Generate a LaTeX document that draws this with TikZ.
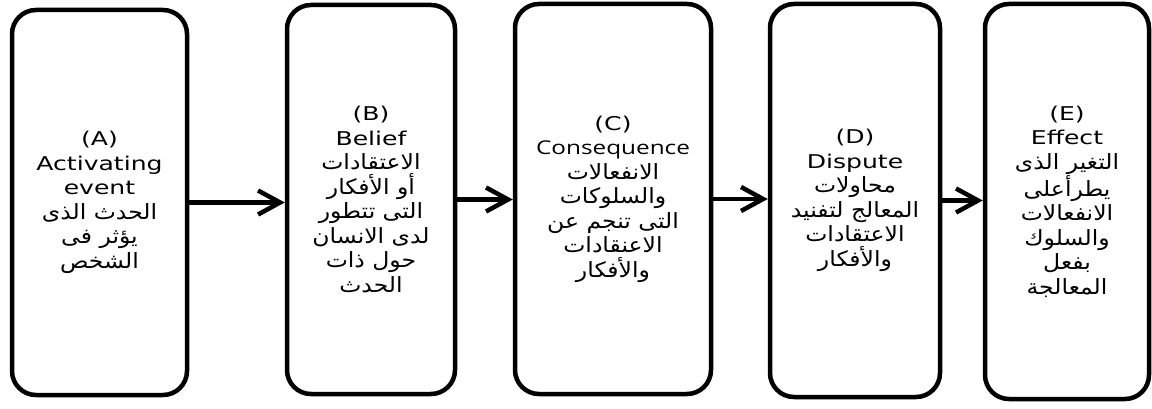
\documentclass[tikz,border=0pt]{standalone}
\usepackage{fontspec}
\setmainfont{DejaVu Sans}[FakeStretch=1.32]
\newfontfamily\arabicfont[Script=Arabic,FakeStretch=1.12]{DejaVu Sans}
\newfontfamily\conseqfont{Open Sans}[FakeStretch=1.28]
\TeXXeTstate=1
\usetikzlibrary{arrows.meta}
\usetikzlibrary{positioning}

\newcommand{\artext}[1]{{\arabicfont\fontsize{21pt}{24.5pt}\selectfont\beginR #1\endR}}

\begin{document}
\begin{tikzpicture}[x=1pt,y=1pt,>={Straight Barb[length=22pt,width=24pt]},
	stagebox/.style={draw,rectangle,rounded corners=24pt,line width=4.5pt,
		inner sep=0pt,align=center,font=\fontsize{19pt}{24.5pt}\selectfont}]
	
	\useasboundingbox (0,0) rectangle (1152,408);
	
	\node[stagebox, minimum width=175pt, minimum height=385pt] (a) at (99.5,205.5)
		{(A)\\Activating\\event\\\artext{الحدث الذى}\\\artext{يؤثر فى}\\\artext{الشخص}};
	\node[stagebox, minimum width=168pt, minimum height=389pt] (b) at (371,208.5)
		{(B)\\Belief\\\artext{الاعتقادات}\\\artext{أو الأفكار}\\\artext{التى تتطور}\\\artext{لدى الانسان}\\\artext{حول ذات}\\\artext{الحدث}};
	\node[stagebox, minimum width=196pt, minimum height=390pt] (c) at (613,209)
		{(C)\\{\conseqfont Consequence}\\\artext{الانفعالات}\\\artext{والسلوكات}\\\artext{التى تنجم عن}\\\artext{الاعنقادات}\\\artext{والأفكار}};
	\node[stagebox, minimum width=170pt, minimum height=393pt] (d) at (855,207.5)
		{(D)\\Dispute\\\artext{محاولات}\\\artext{المعالج لتفنيد}\\\artext{الاعتقادات}\\\artext{والأفكار}};
	\node[stagebox, minimum width=164pt, minimum height=395pt] (e) at (1067,206.5)
		{(E)\\Effect\\\artext{التغير الذى}\\\artext{يطرأعلى}\\\artext{الانفعالات}\\\artext{والسلوك}\\\artext{بفعل}\\\artext{المعالجة}};
	
	\path[->,line width=4.5pt]
	(a.east) edge (a.east -| b.west)
	(b.east) edge (b.east -| c.west)
	(c.east) edge (c.east -| d.west)
	(d.east) edge (d.east -| e.west);
\end{tikzpicture}
\end{document}
